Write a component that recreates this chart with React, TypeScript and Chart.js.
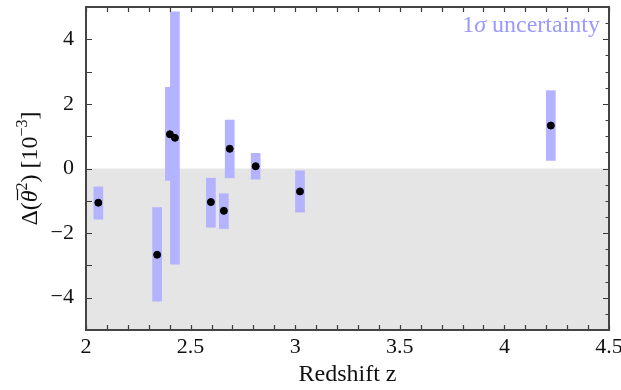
import React, { useEffect, useRef } from "react";
import { Chart, registerables } from "chart.js";

Chart.register(...registerables);

// Redshift of each measurement
const redshifts = [2.059, 2.340, 2.401, 2.425, 2.597, 2.659, 2.687, 2.811, 3.023, 4.222];
// Central values of Δ(θ̄²) in units of 1e-3
const centralValues = [-1.06, -2.67, 1.06, 0.95, -1.04, -1.31, 0.61, 0.07, -0.71, 1.33];
// 1σ band lower / upper limits
const lowerLimits = [-1.57, -4.11, -0.37, -2.96, -1.82, -1.86, -0.29, -0.33, -1.35, 0.25];
const upperLimits = [-0.57, -1.21, 2.51, 4.85, -0.30, -0.78, 1.50, 0.47, -0.07, 2.41];

const xTickValues = [2, 2.5, 3, 3.5, 4, 4.5];
const yTickValues = [-4, -2, 0, 2, 4];

const SERIF = "'Liberation Serif', 'DejaVu Serif', serif";

const fmt = (v: number) => {
  const s = String(Math.round(v * 10) / 10);
  return s.startsWith("-") ? "\u2212" + s.slice(1) : s;
};

const framePlugin = {
  id: "frame",
  beforeDatasetsDraw(chart: any) {
    const { ctx, chartArea, scales } = chart;
    const y0 = scales.y.getPixelForValue(0);
    ctx.save();
    ctx.fillStyle = "#e5e5e5";
    ctx.fillRect(chartArea.left, y0, chartArea.right - chartArea.left, chartArea.bottom - y0);
    ctx.restore();
  },
  afterDatasetsDraw(chart: any) {
    const { ctx, chartArea, scales } = chart;
    const { left, right, top, bottom } = chartArea;
    const xs = scales.x;
    const ys = scales.y;
    ctx.save();
    ctx.strokeStyle = "#3a3a3a";
    ctx.lineWidth = 1.2;
    ctx.beginPath();
    for (let i = 20; i <= 45; i++) {
      const v = i / 10;
      const px = Math.round(xs.getPixelForValue(v)) + 0.5;
      ctx.moveTo(px, bottom);
      ctx.lineTo(px, bottom - 5);
      ctx.moveTo(px, top);
      ctx.lineTo(px, top + 5);
    }
    for (let v = -5; v <= 5; v++) {
      const py = Math.round(ys.getPixelForValue(v)) + 0.5;
      ctx.moveTo(left, py);
      ctx.lineTo(left + 6, py);
    }
    for (let i = -10; i <= 10; i++) {
      const v = i / 2;
      const py = Math.round(ys.getPixelForValue(v)) + 0.5;
      const len = v % 2 === 0 ? 6 : 3.5;
      ctx.moveTo(right, py);
      ctx.lineTo(right - len, py);
    }
    ctx.stroke();
    ctx.lineWidth = 2;
    ctx.strokeStyle = "#444444";
    ctx.strokeRect(left, top, right - left, bottom - top);

    // legend text "1σ uncertainty" (σ italic)
    ctx.fillStyle = "#9999ff";
    ctx.textBaseline = "alphabetic";
    ctx.textAlign = "left";
    const lgA = "1";
    const lgB = "\u03c3";
    const lgC = " uncertainty";
    const lf = 24;
    ctx.font = `${lf}px ${SERIF}`;
    const wA = ctx.measureText(lgA).width;
    const wC = ctx.measureText(lgC).width;
    ctx.font = `italic ${lf}px ${SERIF}`;
    const wB = ctx.measureText(lgB).width;
    let lx = right - 9 - (wA + wB + wC);
    const ly = top + 25;
    ctx.font = `${lf}px ${SERIF}`;
    ctx.fillText(lgA, lx, ly);
    lx += wA;
    ctx.font = `italic ${lf}px ${SERIF}`;
    ctx.fillText(lgB, lx, ly);
    lx += wB;
    ctx.font = `${lf}px ${SERIF}`;
    ctx.fillText(lgC, lx, ly);

    // x-axis title
    ctx.fillStyle = "#111111";
    ctx.font = `24px ${SERIF}`;
    ctx.textAlign = "center";
    ctx.textBaseline = "alphabetic";
    ctx.fillText("Redshift z", (left + right) / 2, 381);

    // y-axis title with overline and superscripts
    const big = `24px ${SERIF}`;
    const bigIt = `italic 24px ${SERIF}`;
    const small = `16px ${SERIF}`;
    const parts: { t: string; f: string; dy: number; over?: boolean }[] = [
      { t: "\u0394(", f: big, dy: 0 },
      { t: "\u03b8", f: bigIt, dy: 0, over: true },
      { t: "2", f: small, dy: -10 },
      { t: ") [10", f: big, dy: 0 },
      { t: "\u22123", f: small, dy: -10 },
      { t: "]", f: big, dy: 0 },
    ];
    let total = 0;
    for (const p of parts) {
      ctx.font = p.f;
      total += ctx.measureText(p.t).width;
    }
    const cy = (top + bottom) / 2;
    ctx.translate(37, cy);
    ctx.rotate(-Math.PI / 2);
    ctx.strokeStyle = "#111111";
    ctx.textAlign = "left";
    let x = -total / 2;
    for (const p of parts) {
      ctx.font = p.f;
      const w = ctx.measureText(p.t).width;
      ctx.fillText(p.t, x, p.dy);
      if (p.over) {
        ctx.lineWidth = 1.2;
        ctx.beginPath();
        ctx.moveTo(x + 2, -19.5);
        ctx.lineTo(x + w + 1, -19.5);
        ctx.stroke();
      }
      x += w;
    }
    ctx.restore();
  },
};

export default function App() {
  const ref = useRef<HTMLCanvasElement | null>(null);

  useEffect(() => {
    document.body.style.margin = "0";
    const canvas = ref.current;
    if (!canvas) return;
    const chart = new Chart(canvas, {
      type: "bar",
      data: {
        datasets: [
          {
            type: "scatter",
            label: "value",
            data: redshifts.map((z, i) => ({ x: z, y: centralValues[i] })),
            backgroundColor: "#000000",
            borderColor: "#000000",
            pointRadius: 3.5,
            pointHoverRadius: 3.5,
            order: 0,
          } as any,
          {
            type: "bar",
            label: "1σ uncertainty",
            data: redshifts.map((z, i) => ({ x: z, y: [lowerLimits[i], upperLimits[i]] })),
            backgroundColor: "#b3b3ff",
            borderWidth: 0,
            barThickness: 9,
            grouped: false,
            order: 1,
          } as any,
        ],
      },
      plugins: [framePlugin],
      options: {
        responsive: false,
        animation: false,
        layout: { padding: { top: 7, right: 12, left: 0, bottom: 0 } },
        plugins: { legend: { display: false }, tooltip: { enabled: false } },
        scales: {
          x: {
            type: "linear",
            min: 2,
            max: 4.5,
            offset: false,
            grid: { display: false, drawTicks: false },
            border: { display: false },
            afterBuildTicks: (s: any) => {
              s.ticks = xTickValues.map((v) => ({ value: v }));
            },
            afterFit: (s: any) => {
              s.height = 60;
              s.paddingLeft = 0;
              s.paddingRight = 0;
            },
            ticks: {
              padding: 4,
              color: "#111111",
              font: { family: SERIF, size: 22 },
              callback: (v: any) => fmt(Number(v)),
              maxRotation: 0,
            },
            title: { display: false },
          },
          y: {
            type: "linear",
            min: -5,
            max: 5,
            grid: { display: false, drawTicks: false },
            border: { display: false },
            afterBuildTicks: (s: any) => {
              s.ticks = yTickValues.map((v) => ({ value: v }));
            },
            afterFit: (s: any) => {
              s.width = 86;
              s.paddingTop = 0;
              s.paddingBottom = 0;
            },
            ticks: {
              padding: 12,
              color: "#111111",
              font: { family: SERIF, size: 22 },
              callback: (v: any) => fmt(Number(v)),
            },
            title: { display: false },
          },
        },
      } as any,
    });
    return () => chart.destroy();
  }, []);

  return (
    <div style={{ position: "fixed", left: 0, top: 0, width: 621, height: 390 }}>
      <canvas ref={ref} width={621} height={390} style={{ display: "block" }} />
    </div>
  );
}
